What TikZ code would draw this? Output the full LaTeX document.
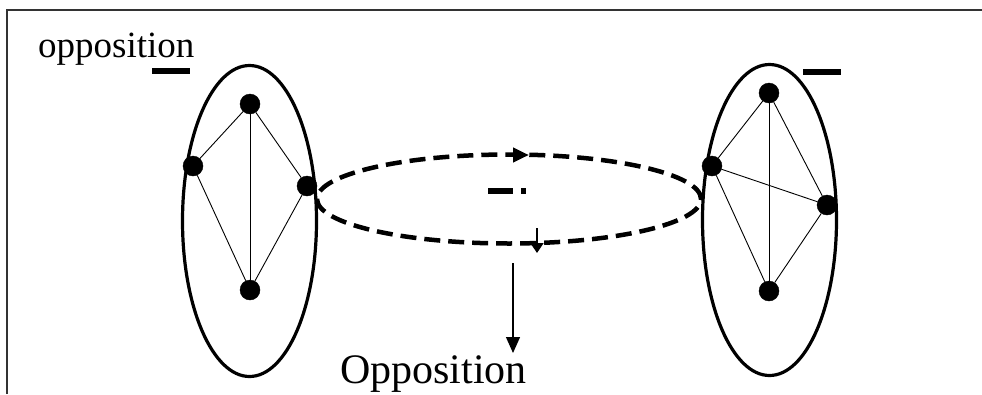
\documentclass[tikz,border=0pt]{standalone}
\usepackage{fontspec}
\setmainfont{Liberation Serif}
\usetikzlibrary{shapes.geometric}
\usetikzlibrary{arrows.meta}

\begin{document}
\begin{tikzpicture}[x=1pt, y=-1pt, main/.style = {draw, circle, fill, minimum size=20pt, inner sep=0pt}, group/.style = {draw, ellipse, line width=3.2pt, minimum width=134pt, minimum height=311pt, inner sep=0pt}, bar/.style = {line width=6.5pt}, link/.style = {line width=0.9pt}]
            \useasboundingbox (0,0) rectangle (982,394);
            \draw[line width=2pt, black!80] (7,394) -- (7,10) -- (982,10);
            \node[group] (L) at (249.5,221) {};
            \node[group] (R) at (769.5,220) {};
            \node[draw, ellipse, dash pattern=on 16pt off 8pt, line width=4.5pt, minimum width=384pt, minimum height=89pt, inner sep=0pt] (M) at (509,199) {};
            \node[main] (1) at (250,104) {};
            \node[main] (2) at (193,166) {};
            \node[main] (3) at (307,186) {};
            \node[main] (4) at (250,290) {};
            \node[main] (5) at (769,93) {};
            \node[main] (6) at (712,166) {};
            \node[main] (7) at (827,205) {};
            \node[main] (8) at (769,291) {};
            \draw[link] (1) -- (2);
            \draw[link] (1) -- (3);
            \draw[link] (1) -- (4);
            \draw[link] (2) -- (4);
            \draw[link] (3) -- (4);
            \draw[link] (5) -- (6);
            \draw[link] (5) -- (7);
            \draw[link] (5) -- (8);
            \draw[link] (6) -- (7);
            \draw[link] (6) -- (8);
            \draw[link] (7) -- (8);
            \node[anchor=base west, font=\fontsize{37}{40}\selectfont, inner sep=0pt] (o1) at (38,57) {opposition};
            \node[anchor=base west, font=\fontsize{42}{46}\selectfont, inner sep=0pt] (o2) at (340,383) {Opposition};
            \draw[bar] (152,71) -- (190,71);
            \draw[bar] (803,72) -- (841,72);
            \draw[bar] (488,191) -- (513,191);
            \draw[bar] (521,191) -- (526,191);
            \coordinate (t1) at (508,155);
            \coordinate (t2) at (529,155);
            \draw[line width=4.5pt, -{Triangle[length=16pt, width=14pt]}] (t1) -- (t2);
            \coordinate (d1) at (537,228);
            \coordinate (d2) at (537,253);
            \draw[line width=1.6pt, -{Triangle[length=10pt, width=13pt]}] (d1) -- (d2);
            \coordinate (a1) at (513,263);
            \coordinate (a2) at (513,353);
            \draw[line width=1.3pt, -{Triangle[length=16pt, width=14pt]}] (a1) -- (a2);
        \end{tikzpicture}
\end{document}
